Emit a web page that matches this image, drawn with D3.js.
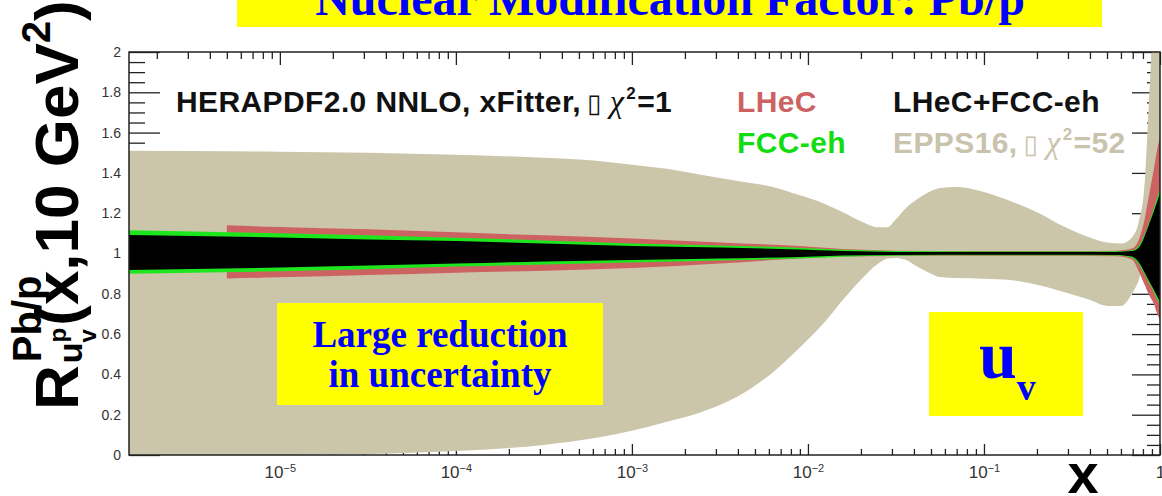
<!DOCTYPE html>
<html>
<head>
<meta charset="utf-8">
<script src="https://cdn.jsdelivr.net/npm/d3@7"></script>
<style>
  html, body { margin: 0; padding: 0; background: #fff; overflow: hidden; }
  svg { display: block; }
</style>
</head>
<body>
<svg id="chart" width="1162" height="496"></svg>
<script>
// ---------------------------------------------------------------------------
// Nuclear modification factor R(x, Q2 = 10 GeV2) for u-valence, Pb/p
// ---------------------------------------------------------------------------

// EPPS16 (Δχ² = 52) uncertainty band
const eppsX  = [1.39e-6, 1e-5, 3.16e-5, 1e-4, 3.16e-4, 6.3e-4, 1e-3, 1.58e-3, 2.51e-3, 3.98e-3,
                6.31e-3, 8.9e-3, 0.0126, 0.0158, 0.02, 0.0251, 0.0282, 0.0316, 0.0355, 0.0427,
                0.0501, 0.0562, 0.0708, 0.1, 0.141, 0.2, 0.282, 0.398, 0.501, 0.603,
                0.692, 0.759, 0.813, 0.851, 0.891, 0.933, 0.966, 1.0];
const eppsLo = [-0.01, 0.0, 0.005, 0.02, 0.05, 0.085, 0.12, 0.165, 0.215, 0.29,
                0.41, 0.53, 0.665, 0.77, 0.87, 0.95, 0.975, 0.978, 0.97, 0.93,
                0.90, 0.883, 0.878, 0.875, 0.868, 0.845, 0.81, 0.77, 0.74, 0.74,
                0.80, 0.87, 0.96, 0.99, 1.0, 1.0, 1.0, 1.0];
const eppsHi = [1.51, 1.505, 1.50, 1.49, 1.475, 1.46, 1.44, 1.42, 1.39, 1.36,
                1.33, 1.29, 1.245, 1.205, 1.16, 1.13, 1.13, 1.17, 1.22, 1.275,
                1.31, 1.325, 1.33, 1.305, 1.26, 1.205, 1.135, 1.08, 1.055, 1.05,
                1.08, 1.16, 1.32, 1.62, 1.96, 2.2, 2.3, 2.4];

// LHeC projection
const lhecX  = [5e-6, 1e-5, 3.16e-5, 1e-4, 3.16e-4, 1e-3, 3.16e-3, 8.9e-3, 0.0158, 0.0316,
                0.1, 0.316, 0.562, 0.692, 0.759, 0.813, 0.871, 0.923, 0.966, 1.0];
const lhecLo = [0.876, 0.882, 0.893, 0.905, 0.915, 0.928, 0.95, 0.975, 0.985, 0.988,
                0.989, 0.989, 0.986, 0.97, 0.91, 0.85, 0.79, 0.75, 0.70, 0.67];
const lhecHi = [1.14, 1.132, 1.12, 1.105, 1.09, 1.075, 1.055, 1.037, 1.022, 1.014,
                1.012, 1.012, 1.014, 1.025, 1.07, 1.16, 1.30, 1.42, 1.52, 1.58];

// FCC-eh and LHeC+FCC-eh projections
const fccX   = [1.39e-6, 1e-5, 3.16e-5, 1e-4, 3.16e-4, 1e-3, 3.16e-3, 8.9e-3, 0.0158, 0.0316,
                0.1, 0.316, 0.562, 0.692, 0.759, 0.813, 0.871, 0.923, 0.966, 1.0];
const fccLo  = [0.90, 0.912, 0.922, 0.935, 0.946, 0.955, 0.965, 0.975, 0.984, 0.989,
                0.991, 0.991, 0.99, 0.98, 0.945, 0.90, 0.85, 0.81, 0.77, 0.745];
const fccHi  = [1.115, 1.10, 1.09, 1.078, 1.065, 1.05, 1.04, 1.028, 1.018, 1.012,
                1.01, 1.01, 1.011, 1.016, 1.04, 1.09, 1.16, 1.225, 1.28, 1.32];
const combLo = [0.918, 0.93, 0.94, 0.95, 0.96, 0.968, 0.975, 0.983, 0.99, 0.993,
                0.994, 0.994, 0.993, 0.985, 0.955, 0.91, 0.86, 0.82, 0.785, 0.76];
const combHi = [1.092, 1.08, 1.07, 1.062, 1.05, 1.037, 1.03, 1.02, 1.012, 1.008,
                1.007, 1.007, 1.008, 1.012, 1.03, 1.08, 1.15, 1.21, 1.26, 1.30];

// axis ticks
const xMajorTicks = [1e-5, 1e-4, 1e-3, 1e-2, 1e-1, 1];
const xTickExp    = ["\u22125", "\u22124", "\u22123", "\u22122", "\u22121", null];
const yMajorTicks = [0, 0.2, 0.4, 0.6, 0.8, 1, 1.2, 1.4, 1.6, 1.8, 2];
const yTickLabels = ["0", "0.2", "0.4", "0.6", "0.8", "1", "1.2", "1.4", "1.6", "1.8", "2"];

// ---------------------------------------------------------------------------
const SANS  = "'Liberation Sans', Arial, Helvetica, sans-serif";
const SERIF = "'Liberation Serif', 'Times New Roman', serif";
const COL = { epps: "#cbc5aa", lhec: "#cd6262", fcc: "#1ee61e", comb: "#000000",
              axis: "#222", label: "#333", yellow: "#ffff00", blue: "#0000ff" };

const frame = { left: 129, right: 1160, top: 52, bottom: 455 };
const svg = d3.select("#chart");

const x = d3.scaleLog().domain([1.39e-6, 1]).range([frame.left, frame.right]);
const y = d3.scaleLinear().domain([0, 2]).range([frame.bottom, frame.top]);

// minor tick positions: 2..9 within each decade, 0.05 steps on y
const xMinorTicks = [];
for (let e = -6; e < 0; e++) for (let m = 2; m <= 9; m++) {
  const v = m * Math.pow(10, e);
  if (v > x.domain()[0] && v < 1) xMinorTicks.push(v);
}
const yMinorTicks = d3.range(0, 2.0001, 0.05).map(v => +v.toFixed(2))
  .filter(v => !yMajorTicks.includes(v));

svg.append("rect").attr("width", 1162).attr("height", 496).attr("fill", "#fff");

// ---- title box ----
svg.append("rect").attr("x", 237).attr("y", 0).attr("width", 865).attr("height", 27)
  .attr("fill", COL.yellow);
svg.append("text").attr("x", 670).attr("y", 15).attr("text-anchor", "middle")
  .attr("font-family", SERIF).attr("font-weight", "bold").attr("font-size", 48)
  .attr("fill", COL.blue).text("Nuclear Modification Factor: Pb/p");

// ---- tick marks (drawn beneath the bands) ----
const ticks = svg.append("g").attr("class", "ticks");
function tickAxis(axis, tr) {
  const g = ticks.append("g").attr("transform", tr).call(axis);
  g.select(".domain").remove();
  g.selectAll(".tick line").attr("stroke", COL.axis).attr("stroke-width", 1.3);
  g.selectAll(".tick text").remove();
  return g;
}
tickAxis(d3.axisBottom(x).tickValues(xMinorTicks).tickSize(-6), `translate(0,${frame.bottom})`);
tickAxis(d3.axisBottom(x).tickValues(xMajorTicks).tickSize(-11), `translate(0,${frame.bottom})`);
tickAxis(d3.axisTop(x).tickValues(xMinorTicks).tickSize(-7), `translate(0,${frame.top})`);
tickAxis(d3.axisTop(x).tickValues(xMajorTicks).tickSize(-13), `translate(0,${frame.top})`);
tickAxis(d3.axisLeft(y).tickValues(yMinorTicks).tickSize(-16), `translate(${frame.left},0)`);
tickAxis(d3.axisLeft(y).tickValues(yMajorTicks).tickSize(-31), `translate(${frame.left},0)`);
tickAxis(d3.axisRight(y).tickValues(yMinorTicks).tickSize(-13), `translate(${frame.right},0)`);
tickAxis(d3.axisRight(y).tickValues(yMajorTicks).tickSize(-28), `translate(${frame.right},0)`);

// ---- bands ----
svg.append("clipPath").attr("id", "plotClip").append("rect")
  .attr("x", frame.left).attr("y", frame.top)
  .attr("width", frame.right - frame.left).attr("height", frame.bottom - frame.top);

function band(xs, lo, hi, color) {
  const area = d3.area()
    .x((d, i) => x(xs[i]))
    .y0((d, i) => y(lo[i]))
    .y1((d, i) => y(hi[i]))
    .curve(d3.curveMonotoneX);
  bands.append("path").attr("d", area(xs)).attr("fill", color);
}
const bands = svg.append("g").attr("clip-path", "url(#plotClip)");
band(eppsX, eppsLo, eppsHi, COL.epps);
band(lhecX, lhecLo, lhecHi, COL.lhec);
band(fccX, fccLo, fccHi, COL.fcc);
band(fccX, combLo, combHi, COL.comb);

// ---- frame ----
svg.append("rect").attr("x", frame.left).attr("y", frame.top)
  .attr("width", frame.right - frame.left).attr("height", frame.bottom - frame.top)
  .attr("fill", "none").attr("stroke", COL.axis).attr("stroke-width", 1.5);

// ---- tick labels ----
const yLab = svg.append("g").attr("transform", `translate(${frame.left},0)`)
  .call(d3.axisLeft(y).tickValues(yMajorTicks).tickSize(0).tickPadding(8)
    .tickFormat((d, i) => yTickLabels[i]));
yLab.select(".domain").remove();
yLab.selectAll("text").attr("font-family", SANS).attr("font-size", 14)
  .attr("fill", COL.label);

const xLab = svg.append("g").attr("transform", `translate(0,${frame.bottom})`)
  .call(d3.axisBottom(x).tickValues(xMajorTicks).tickSize(0).tickPadding(11).tickFormat(() => ""));
xLab.select(".domain").remove();
xLab.selectAll("text").attr("font-family", SANS).attr("font-size", 17)
  .attr("fill", COL.label)
  .each(function (d, i) {
    const t = d3.select(this);
    if (xTickExp[i] === null) { t.text("1"); return; }
    t.append("tspan").text("10");
    t.append("tspan").attr("font-size", 11).attr("dy", "-0.55em").text(xTickExp[i]);
  });

// ---- legend ----
function legendLine(xp, yp, parts) {
  const t = svg.append("text").attr("x", xp).attr("y", yp)
    .attr("font-family", SANS).attr("font-weight", "bold").attr("font-size", 30)
    .attr("letter-spacing", 0.4);
  parts.forEach(p => {
    const s = t.append("tspan").text(p.text).attr("fill", p.fill);
    if (p.font) s.attr("font-family", p.font);
    if (p.size) s.attr("font-size", p.size);
    if (p.weight) s.attr("font-weight", p.weight);
    if (p.style) s.attr("font-style", p.style);
    if (p.dx) s.attr("dx", p.dx);
    if (p.dy) s.attr("dy", p.dy);
  });
}
function chiParts(rest, fill) {
  return [
    { text: "\u25AF", fill, font: "'DejaVu Sans', sans-serif", weight: "normal", size: 26, dx: 6 },
    { text: "\u03C7", fill, font: SERIF, weight: "normal", style: "italic", size: 32, dx: 8 },
    { text: "2", fill, size: 17, dy: -13, dx: 2 },
    { text: rest, fill, dy: 13, dx: 1 }
  ];
}
legendLine(176, 112, [{ text: "HERAPDF2.0 NNLO, xFitter,", fill: "#111" }, ...chiParts("=1", "#111")]);
legendLine(737, 112, [{ text: "LHeC", fill: COL.lhec }]);
legendLine(737, 153, [{ text: "FCC-eh", fill: "#11dd11" }]);
legendLine(893, 112, [{ text: "LHeC+FCC-eh", fill: "#111" }]);
legendLine(893, 153, [{ text: "EPPS16,", fill: "#c9c3ad" }, ...chiParts("=52", "#c9c3ad")]);

// ---- annotation boxes ----
svg.append("rect").attr("x", 277).attr("y", 303).attr("width", 326).attr("height", 102)
  .attr("fill", COL.yellow);
svg.append("text").attr("x", 440).attr("y", 347).attr("text-anchor", "middle")
  .attr("font-family", SERIF).attr("font-weight", "bold").attr("font-size", 37)
  .attr("fill", COL.blue).text("Large reduction");
svg.append("text").attr("x", 440).attr("y", 387).attr("text-anchor", "middle")
  .attr("font-family", SERIF).attr("font-weight", "bold").attr("font-size", 37)
  .attr("fill", COL.blue).text("in uncertainty");

svg.append("rect").attr("x", 929).attr("y", 312).attr("width", 154).attr("height", 104)
  .attr("fill", COL.yellow);
const uv = svg.append("text").attr("x", 979).attr("y", 378)
  .attr("font-family", SERIF).attr("font-weight", "bold").attr("font-size", 68)
  .attr("fill", COL.blue);
uv.append("tspan").text("u");
uv.append("tspan").attr("font-size", 38).attr("dy", 22).text("v");

// ---- axis titles ----
svg.append("text").attr("x", 1083).attr("y", 493).attr("text-anchor", "middle")
  .attr("font-family", SANS).attr("font-weight", "bold").attr("font-size", 56)
  .attr("fill", "#000").text("x");

// rotated y title: R^{Pb/p}_{u^p_v}(x,10 GeV^2)
const yt = svg.append("g").attr("transform", "translate(78,410) rotate(-90)")
  .attr("font-family", SANS).attr("font-weight", "bold").attr("fill", "#000");
function piece(str, xp, yp, size) {
  const t = yt.append("text").attr("x", xp).attr("y", yp).attr("font-size", size).text(str);
  return t.node().getComputedTextLength();
}
const wR = piece("R", 0, 0, 62);
piece("Pb/p", wR + 3, -37, 40);
const wu = piece("u", wR + 2, 4, 34);
const wp = piece("p", wR + 2 + wu, -12, 24);
piece("v", wR + 2 + wu, 18, 24);
const x0 = wR + 2 + wu + wp + 2;
const wMain = piece("(x,10 GeV", x0, 0, 62);
const w2 = piece("2", x0 + wMain, -28, 40);
piece(")", x0 + wMain + w2, 0, 62);
</script>
</body>
</html>
